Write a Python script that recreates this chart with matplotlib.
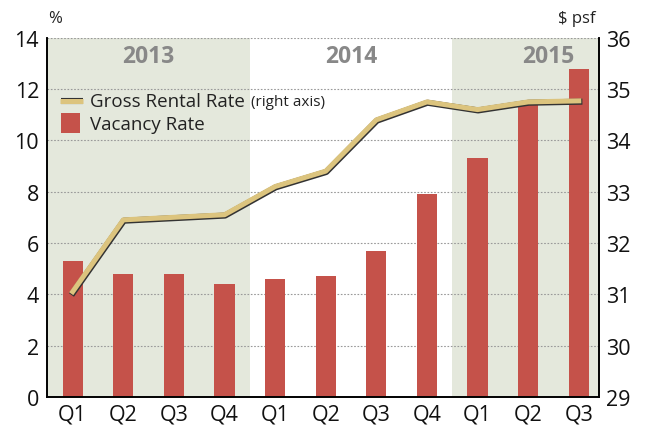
import matplotlib.pyplot as plt
import matplotlib.patheffects as pe
import numpy as np

plt.rcParams['font.family'] = ['Open Sans', 'DejaVu Sans']

quarters = ["Q1", "Q2", "Q3", "Q4", "Q1", "Q2", "Q3", "Q4", "Q1", "Q2", "Q3"]
years = ["2013", "2014", "2015"]
vacancy = [5.3, 4.8, 4.8, 4.4, 4.6, 4.7, 5.7, 7.9, 9.3, 11.5, 12.8]
rental = [31.05, 32.45, 32.5, 32.55, 33.1, 33.4, 34.4, 34.75, 34.6, 34.75, 34.77]

x = np.arange(len(quarters))
tan = "#dcc47e"
red = "#c5524a"
line_fx = [pe.Stroke(linewidth=4.4, foreground="#333333", offset=(0.4, -0.6)), pe.Normal()]

fig, ax1 = plt.subplots(figsize=(6.49, 4.31), dpi=100)
fig.subplots_adjust(left=0.073, right=0.923, top=0.91, bottom=0.077)
ax2 = ax1.twinx()

# year shading
ax1.axvspan(-0.5, 3.5, color="#e4e8dc", zorder=0, lw=0)
ax1.axvspan(7.5, 10.5, color="#e4e8dc", zorder=0, lw=0)

for y in range(2, 15, 2):
    ax1.axhline(y, color="#999999", ls=(0, (1.5, 1.5)), lw=0.8, zorder=1)

ax1.bar(x, vacancy, width=0.4, color=red, zorder=2, label="Vacancy Rate")
ax2.plot(x, rental, color=tan, lw=3.6, zorder=3, label="Gross Rental Rate",
         path_effects=line_fx)

ax1.set_xlim(-0.5, 10.4)
ax1.set_ylim(0, 14)
ax2.set_ylim(29, 36)
ax1.set_yticks(range(0, 15, 2))
ax2.set_yticks(range(29, 37))
ax1.set_xticks(x)
ax1.set_xticklabels(quarters)

for ax in (ax1, ax2):
    ax.tick_params(length=0, labelsize=15.5, colors="#111111")
    ax.spines["top"].set_visible(False)
    for s in ("left", "right", "bottom"):
        ax.spines[s].set_linewidth(1.2)
ax1.tick_params(axis="y", pad=6)
ax2.tick_params(axis="y", pad=5)
ax1.tick_params(axis="x", pad=5)

ax1.set_zorder(ax2.get_zorder() - 1)
ax2.patch.set_visible(False)
ax1.patch.set_visible(False)

for xc, yr in zip([1.5, 5.5, 9.4], years):
    ax1.text(xc, 13.3, yr, ha="center", va="center", fontsize=16.5,
             fontweight="bold", color="#888888")

fig.text(0.074, 0.955, "%", fontsize=12, color="#222222", ha="left", va="center")
fig.text(0.918, 0.955, "$ psf", fontsize=12, color="#222222", ha="right", va="center")

# legend
ax1.plot([-0.25, 0.2], [11.55, 11.55], color=tan, lw=3.6, zorder=4,
         solid_capstyle="butt", path_effects=line_fx)
t = ax1.text(0.35, 11.55, "Gross Rental Rate", fontsize=13.5, va="center",
             color="#222222", zorder=4)
ax1.annotate("(right axis)", xy=(1, 0.5), xycoords=t, xytext=(4, -0.5),
             textcoords="offset points", fontsize=11, va="center",
             color="#222222", zorder=4)
ax1.bar([-0.05], [0.75], bottom=[10.3], width=0.38, color=red, zorder=4)
ax1.text(0.35, 10.65, "Vacancy Rate", fontsize=13.5, va="center", color="#222222", zorder=4)

fig.savefig("out.png", dpi=100)
